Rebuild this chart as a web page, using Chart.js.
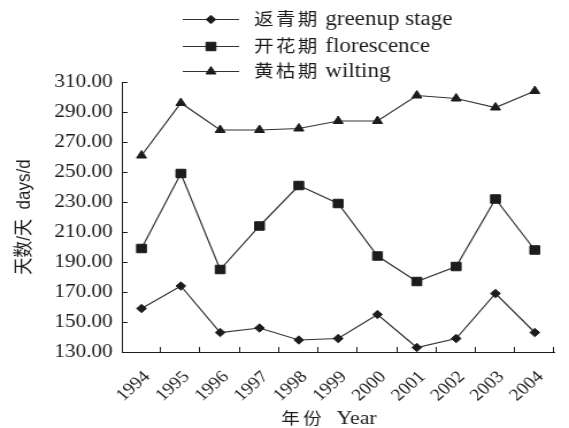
<!DOCTYPE html>
<html>
<head>
<meta charset="utf-8">
<title>返青期、开花期、黄枯期 1994-2004</title>
<script src="https://cdn.jsdelivr.net/npm/chart.js@4.4.1/dist/chart.umd.min.js"></script>
<style>
  html, body { margin: 0; padding: 0; background: #fff; overflow: hidden; }
</style>
</head>
<body>
<!-- the drawing surface is rendered narrower and widened by CSS, giving the wide type of the printed figure -->
<canvas id="chart" width="495" height="428" style="display:block;width:569px;height:428px"></canvas>
<script>
// ---- data ----
const years = ['1994', '1995', '1996', '1997', '1998', '1999', '2000', '2001', '2002', '2003', '2004'];
const greenup = [159, 174, 143, 146, 138, 139, 155, 133, 139, 169, 143];
const florescence = [199, 249, 185, 214, 241, 229, 194, 177, 187, 232, 198];
const wilting = [261, 296, 278, 278, 279, 284, 284, 301, 299, 293, 304];
const seriesLabels = ['返青期 greenup stage', '开花期 florescence', '黄枯期 wilting'];
const yMin = 130;
const yMax = 310;
const yStep = 20;
const yTitle = '天数/天  days/d';
const xTitle = ['年份', 'Year'];

// ---- styling ----
const ink = '#1c1c1c';
const lineInk = '#333333';
const serif = '"Liberation Serif", "Times New Roman", serif';
const cjk = '"Noto Sans CJK SC", sans-serif';

function series(label, data, style, radius) {
  return {
    label, data,
    borderColor: lineInk, borderWidth: 1.2,
    pointStyle: style, pointRadius: radius, pointHoverRadius: radius,
    pointBackgroundColor: ink, pointBorderColor: ink, pointBorderWidth: 1,
    tension: 0, fill: false
  };
}

// inward tick marks, x-axis title and the stacked legend
const decor = {
  id: 'decor',
  afterDraw(chart) {
    const { ctx, chartArea: a, scales: { x, y } } = chart;
    ctx.save();
    ctx.strokeStyle = ink;
    ctx.lineWidth = 1;
    ctx.beginPath();
    y.ticks.forEach(t => {
      const py = Math.round(y.getPixelForValue(t.value)) + 0.5;
      ctx.moveTo(a.left, py);
      ctx.lineTo(a.left + 5, py);
    });
    const half = (x.getPixelForValue(1) - x.getPixelForValue(0)) / 2;
    years.forEach((_, i) => {
      const px = Math.round(x.getPixelForValue(i) + half) - 0.5;
      ctx.moveTo(px, a.bottom);
      ctx.lineTo(px, a.bottom - 5);
    });
    ctx.stroke();

    // x-axis title, centred under the slanted year labels
    ctx.fillStyle = ink;
    ctx.textBaseline = 'middle';
    ctx.textAlign = 'left';
    ctx.font = '16px ' + cjk;
    ctx.letterSpacing = '3px';
    const w1 = ctx.measureText(xTitle[0]).width;
    ctx.letterSpacing = '0px';
    ctx.font = '19px ' + serif;
    const w2 = ctx.measureText(xTitle[1]).width;
    const gap = 10;
    let tx = a.left + (a.right - a.left) / 2 - 8 - (w1 + gap + w2) / 2;
    ctx.font = '16px ' + cjk;
    ctx.letterSpacing = '3px';
    ctx.fillText(xTitle[0], tx, 418);
    ctx.letterSpacing = '0px';
    ctx.font = '19px ' + serif;
    ctx.fillText(xTitle[1], tx + w1 + gap, 419);

    // legend: one row per series
    const lx0 = 159, lx1 = 208, mx = 183.5, textX = 221;
    const rowY = [19, 46, 71];
    chart.data.datasets.forEach((ds, i) => {
      const cy = rowY[i];
      ctx.strokeStyle = ds.borderColor;
      ctx.lineWidth = ds.borderWidth;
      ctx.beginPath();
      ctx.moveTo(lx0, cy + 0.5);
      ctx.lineTo(lx1, cy + 0.5);
      ctx.stroke();
      ctx.fillStyle = ds.pointBackgroundColor;
      ctx.strokeStyle = ds.pointBorderColor;
      ctx.lineWidth = ds.pointBorderWidth;
      Chart.helpers.drawPoint(ctx, { pointStyle: ds.pointStyle, radius: ds.pointRadius, rotation: 0, borderWidth: ds.pointBorderWidth }, mx, cy + 0.5);

      const sp = ds.label.indexOf(' ');
      const zh = ds.label.slice(0, sp);
      const en = ds.label.slice(sp + 1);
      ctx.fillStyle = ink;
      ctx.font = '17px ' + cjk;
      ctx.letterSpacing = '2px';
      ctx.fillText(zh, textX, cy);
      const zw = ctx.measureText(zh).width;
      ctx.letterSpacing = '0px';
      ctx.font = '20px ' + serif;
      ctx.fillText(en, textX + zw + 5, cy + 1);
    });
    ctx.restore();
  }
};

new Chart(document.getElementById('chart'), {
  type: 'line',
  data: {
    labels: years,
    datasets: [
      series(seriesLabels[0], greenup, 'rectRot', 4.2),
      series(seriesLabels[1], florescence, 'rect', 6),
      series(seriesLabels[2], wilting, 'triangle', 5)
    ]
  },
  options: {
    responsive: false,
    animation: false,
    devicePixelRatio: 1,
    layout: { padding: { top: 82, right: 1, left: 0, bottom: 0 } },
    plugins: { legend: { display: false }, tooltip: { enabled: false } },
    scales: {
      x: {
        type: 'category',
        offset: true,
        afterFit(s) { s.height = 76; },
        grid: { display: true, offset: true, drawOnChartArea: false, drawTicks: false },
        border: { display: true, color: ink, width: 1 },
        ticks: {
          autoSkip: false, minRotation: 45, maxRotation: 45,
          padding: 15, labelOffset: 5,
          color: ink, font: { family: serif, size: 17 }
        }
      },
      y: {
        min: yMin, max: yMax,
        afterFit(s) { s.width = 106; },
        grid: { display: true, drawOnChartArea: false, drawTicks: false },
        border: { display: true, color: ink, width: 1 },
        ticks: {
          stepSize: yStep, padding: 8, color: ink,
          font: { family: serif, size: 18.5 },
          callback: v => Number(v).toFixed(2)
        },
        title: {
          display: true, text: yTitle, color: ink,
          font: { family: '"Liberation Sans", ' + cjk, size: 17 },
          padding: { top: 11, bottom: 0 }
        }
      }
    }
  },
  plugins: [decor]
});
</script>
</body>
</html>
